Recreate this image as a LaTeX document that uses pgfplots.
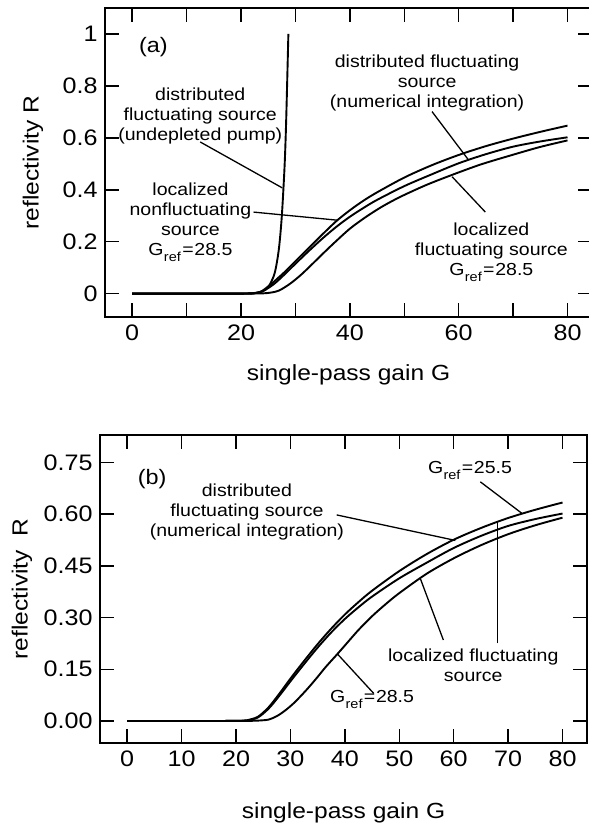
\documentclass[border=0pt]{standalone}
\usepackage{fontspec}
\setmainfont{Liberation Sans}[FakeStretch=1.12]
\usepackage{pgfplots}
\pgfplotsset{compat=1.18}
\newcommand{\Gref}[1]{G\kern0.02em\raisebox{-0.65ex}{\fontsize{13}{13}\selectfont ref}\kern0.08em=\kern0.04em#1}
\newcommand{\annot}{\fontsize{17.5}{20}\selectfont}
\tikzset{lead/.style={line width=1.3bp, black}}

\pgfplotstableread{
G R
0 0
10 0
18 0
20 0.0001
22 0.0012
23 0.0034
24 0.009
25 0.025
26 0.067
26.5 0.11
27 0.18
27.5 0.30
28 0.49
28.3 0.67
28.7 1.0
}\undepleted

\pgfplotstableread{
G R
0 0
10 0
18 0
21 0.0005
23 0.003
24 0.012
25 0.028
26 0.045
27 0.064
27.8 0.079
30 0.125
32.5 0.177
35 0.229
37.5 0.279
40 0.321
42.5 0.358
45 0.390
50 0.447
55 0.494
60 0.534
65 0.568
70 0.597
75 0.623
80 0.647
}\nonfluct

\pgfplotstableread{
G R
0 0
10 0
18 0
21 0.0004
22 0.001
24 0.01
26 0.036
28 0.074
30 0.115
32.5 0.165
35 0.213
37.5 0.257
40 0.296
42.5 0.330
45 0.361
50 0.414
55 0.459
60 0.502
65 0.537
70 0.566
75 0.586
80 0.602
}\distnum

\pgfplotstableread{
G R
0 0
10 0
18 0
22 0.0002
24 0.001
25.5 0.004
27 0.012
29 0.038
31 0.072
33 0.112
35 0.153
37 0.193
40 0.25
43 0.296
46 0.336
49.3 0.373
54 0.418
58.5 0.455
64 0.497
70 0.535
75 0.565
80 0.59
}\locfluctA

\pgfplotstableread{
G R
0 0
10 0
18 0
21 0.0006
22 0.002
24 0.012
26 0.04
28 0.08
30 0.123
32.5 0.174
35 0.223
37.5 0.268
40 0.309
42.5 0.345
45 0.378
50 0.435
55 0.484
60 0.526
65 0.560
70 0.589
75 0.613
80 0.634
}\locfluctB

\pgfplotstableread{
G R
0 0
10 0
18 0
22 0.0002
24 0.001
26 0.004
27.5 0.014
29 0.03
30.5 0.05
32 0.074
33.5 0.1
35 0.128
36.5 0.157
38.5 0.192
40 0.219
42.5 0.264
45 0.304
47.5 0.339
50 0.371
55 0.427
60 0.472
65 0.510
70 0.542
75 0.568
80 0.59
}\locfluctC

\begin{document}
\begin{tikzpicture}
\useasboundingbox (0,0) rectangle (589bp,829bp);
\pgfplotsset{
  myaxis/.style={
    scale only axis, width=487bp,
    xmin=-5, xmax=84.5,
    axis line style={line width=1.9bp},
    tick style={line width=1.5bp, black},
    major tick length=14bp,
    tick align=inside,
    tick label style={font=\fontsize{22.5}{22.5}\selectfont},
    /pgf/number format/assume math mode=true,
    label style={font=\fontsize{22}{22}\selectfont},
    xtick={0,10,...,80},
    xticklabel style={yshift=-4bp},
    yticklabel style={xshift=-4bp},
    xlabel={single-pass gain G},
  },
  curve/.style={line width=1.9bp, black, smooth, tension=0.5, mark=none},
}
% ---------- panel (a)
\begin{axis}[myaxis,
  at={(105bp,512bp)}, anchor=south west, height=309bp,
  ymin=-0.09, ymax=1.1,
  ytick={0,0.2,0.4,0.6,0.8,1},
  yticklabels={0,0.2,0.4,0.6,0.8,1},
  xticklabels={0,,20,,40,,60,,80},
  ylabel={reflectivity R},
  xlabel style={at={(axis description cs:0.5,0)}, anchor=center, yshift=-58bp},
  ylabel style={at={(axis description cs:-0.148,0.5)}, anchor=center},
]
\addplot[curve] table[x=G,y=R] {\undepleted};
\addplot[curve] table[x=G,y=R] {\nonfluct};
\addplot[curve] table[x=G,y=R] {\distnum};
\addplot[curve] table[x=G,y=R] {\locfluctA};
\node[font=\fontsize{21}{21}\selectfont] at (axis cs:3.9,0.95) {(a)};
\node[font=\annot, align=center] at (axis cs:12.5,0.684) {distributed\\fluctuating source\\(undepleted pump)};
\draw[lead] (axis cs:12.5,0.584) -- (axis cs:27.6,0.407);
\node[font=\annot, align=center] at (axis cs:10.7,0.275) {localized\\nonfluctuating\\source\\\Gref{28.5}};
\draw[lead] (axis cs:22.3,0.314) -- (axis cs:37.6,0.283);
\node[font=\annot, align=center] at (axis cs:54.2,0.811) {distributed fluctuating\\source\\(numerical integration)};
\draw[lead] (axis cs:55.1,0.701) -- (axis cs:61.8,0.515);
\node[font=\annot, align=center] at (axis cs:66,0.16) {localized\\fluctuating source\\\Gref{28.5}};
\draw[lead] (axis cs:64.9,0.314) -- (axis cs:58.8,0.450);
\end{axis}
% ---------- panel (b)
\begin{axis}[myaxis,
  at={(100bp,86bp)}, anchor=south west, height=308bp,
  ymin=-0.064, ymax=0.83,
  ytick={0,0.15,0.30,0.45,0.60,0.75},
  yticklabels={0.00,0.15,0.30,0.45,0.60,0.75},
  xticklabels={0,10,20,30,40,50,60,70,80},
  ylabel={reflectivity~ R},
  xlabel style={at={(axis description cs:0.5,0)}, anchor=center, yshift=-70bp},
  ylabel style={at={(axis description cs:-0.160,0.5)}, anchor=center},
]
\addplot[curve] table[x=G,y=R] {\locfluctB};
\addplot[curve] table[x=G,y=R] {\distnum};
\addplot[curve] table[x=G,y=R] {\locfluctC};
\node[font=\fontsize{21}{21}\selectfont] at (axis cs:4.6,0.702) {(b)};
\node[font=\annot, align=center] at (axis cs:22,0.607) {distributed\\fluctuating source\\(numerical integration)};
\draw[lead] (axis cs:38.5,0.598) -- (axis cs:60.3,0.524);
\node[font=\annot] at (axis cs:63,0.728) {\Gref{25.5}};
\draw[lead] (axis cs:64.9,0.694) -- (axis cs:72.5,0.603);
\node[font=\annot, align=center] at (axis cs:63.6,0.162) {localized fluctuating\\source};
\draw[lead] (axis cs:58.1,0.235) -- (axis cs:53.9,0.412);
\draw[lead] (axis cs:68,0.225) -- (axis cs:68,0.578);
\node[font=\annot] at (axis cs:45,0.061) {\Gref{28.5}};
\draw[lead] (axis cs:45.3,0.080) -- (axis cs:38.6,0.195);
\end{axis}
\end{tikzpicture}
\end{document}
